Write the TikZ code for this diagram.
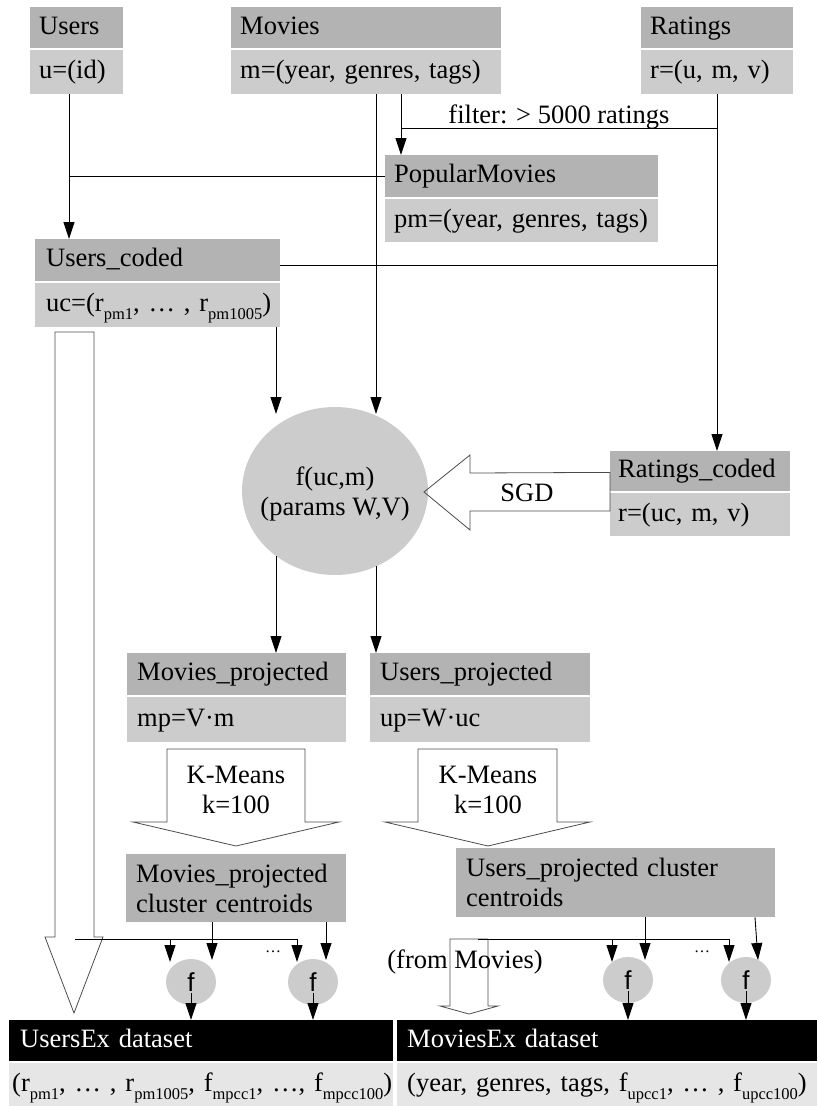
\documentclass[tikz,border=0pt]{standalone}
\usepackage{fontspec}
\setmainfont{Liberation Serif}
\newfontfamily\fsans{Liberation Sans}
\usetikzlibrary{arrows.meta,shapes.geometric}
\definecolor{hdrc}{HTML}{B3B3B3}
\definecolor{bodc}{HTML}{CCCCCC}
\definecolor{exc}{HTML}{E6E6E6}
\newcommand\sbx[1]{\raisebox{-8pt}{\fontsize{16.5}{16.5}\selectfont #1}}
\begin{document}
\begin{tikzpicture}[x=1pt,y=-1pt,
  font=\fontsize{26.5}{30}\selectfont,
  hd/.style={fill=hdrc, anchor=north west, inner xsep=9pt, inner ysep=0pt, minimum height=41pt, text height=18pt, text depth=5pt, align=left},
  bd/.style={hd, fill=bodc, minimum height=44pt},
  cc/.style={fill=hdrc, anchor=north west, inner xsep=10pt, inner ysep=0pt, align=left},
  dk/.style={anchor=north west, fill=black, text=white, inner xsep=11pt, inner ysep=0pt, minimum height=41pt, text height=18pt, text depth=5pt, align=left},
  ex/.style={anchor=north west, fill=exc, inner xsep=3pt, inner ysep=0pt, minimum height=43pt, text height=18pt, text depth=5pt, align=left},
  ln/.style={line width=0.9pt, black},
  arr/.style={ln, -{Triangle[length=17pt,width=11pt]}},
  hol/.style={draw=black!70, line width=0.8pt},
  fc/.style={ellipse, fill=bodc, minimum width=50pt, minimum height=46pt, inner sep=0pt, font=\fsans\fontsize{26}{30}\selectfont},
  lbl/.style={inner sep=0pt}
]
\useasboundingbox (0,0) rectangle (817,1106);

% boxes
\node[hd, text width=75pt] (uh) at (30,7) {Users};
\node[bd, text width=75pt] (ub) at (30,50) {u=(id)};
\node[hd, text width=252pt] (mh) at (231,7) {Movies};
\node[bd, text width=252pt] (mb) at (231,50) {m=(year, genres, tags)};
\node[hd, text width=134pt] (rh) at (641,7) {Ratings};
\node[bd, text width=134pt] (rb) at (641,50) {r=(u, m, v)};
\node[hd, text width=255pt, minimum height=42pt] (ph) at (385,155) {PopularMovies};
\node[bd, text width=255pt, minimum height=43pt] (pb) at (385,199) {pm=(year, genres, tags)};
\node[hd, inner xsep=11pt, text width=223pt, minimum height=42pt] (uch) at (35,239) {Users\_coded};
\node[bd, inner xsep=11pt, text width=223pt] (ucb) at (35,283) {\mbox{uc=(r\sbx{pm1}, … , r\sbx{pm1005})}};
\node[hd, inner xsep=8pt, text width=164pt, minimum height=40pt] (rch) at (610,451) {Ratings\_coded};
\node[bd, inner xsep=8pt, text width=164pt, minimum height=43pt] (rcb) at (610,493) {r=(uc, m, v)};
\node[ellipse, fill=bodc, minimum width=186pt, minimum height=168pt, inner sep=0pt] (fn) at (335,491) {};
\node[align=center] (fnt) at (335,494) {f(uc,m)\\(params W,V)};
\node[hd, inner xsep=10pt, text width=199pt, minimum height=42pt] (mph) at (127,653) {Movies\_projected};
\node[bd, inner xsep=10pt, text width=199pt, minimum height=45pt] (mpb) at (127,697) {mp=V·m};
\node[hd, inner xsep=10pt, text width=200pt, minimum height=42pt] (uph) at (370,653) {Users\_projected};
\node[bd, inner xsep=10pt, text width=200pt, minimum height=45pt] (upb) at (370,697) {up=W·uc};
\node[cc, text width=200pt, minimum height=68pt] (mcc) at (126,854) {Movies\_projected\\cluster centroids};
\node[cc, text width=299pt, minimum height=69pt] (ucc) at (456,848) {Users\_projected cluster\\centroids};
\node[dk, text width=362pt] (ueh) at (9,1020) {UsersEx dataset};
\node[ex, text width=378pt] (ueb) at (9,1063) {\mbox{(r\sbx{pm1}, … , r\sbx{pm1005}, f\sbx{mpcc1}, …, f\sbx{mpcc100})}};
\node[dk, inner xsep=10pt, text width=400pt] (meh) at (397,1020) {MoviesEx dataset};
\node[ex, inner xsep=10pt, text width=400pt] (meb) at (397,1063) {\mbox{(year, genres, tags, f\sbx{upcc1}, … , f\sbx{upcc100})}};

% column coordinates
\coordinate (xu) at (69,0);
\coordinate (xf) at (401,0);
\coordinate (xm) at (376,0);
\coordinate (xa) at (276,0);
\coordinate (xr) at (717,0);
\coordinate (ftop) at (0,414);

% top connectors
\draw[arr] (ub.south -| xu) -- (uch.north -| xu);
\draw[ln] (xu |- ph.west) -- (ph.west);
\draw[arr] (mb.south -| xf) -- (ph.north -| xf);
\coordinate (fj) at (401,128);
\coordinate (rj) at (717,128);
\draw[ln] (fj) -- (rj);
\node[anchor=base] (flt) at (559,123) {filter: > 5000 ratings};
\draw[arr] (rb.south -| xr) -- (rch.north -| xr);
\coordinate (ucj) at (280,265);
\draw[ln] (ucj) -- (xr |- ucj);
\draw[arr] (mb.south -| xm) -- (xm |- ftop);
\draw[arr] (ucb.south -| xa) -- (xa |- ftop);

% from f(uc,m) down
\coordinate (fa) at (276,556);
\coordinate (fm) at (376,566);
\draw[arr] (fa) -- (mph.north -| fa);
\draw[arr] (fm) -- (uph.north -| fm);

% SGD hollow arrow
\draw[hol] (rch.south west) ++(0,-19) coordinate (s1) -- (470,473) -- (470,455) -- (424,492) -- (470,530) -- (470,511) -- (rch.south west |- 0,511) -- cycle;
\node (sgd) at (527,493) {SGD};

% K-Means hollow arrows
\draw[hol] (167,749) -- (305,749) -- (305,822) -- (339,822) -- (236,846) -- (133,822) -- (167,822) -- cycle;
\node[align=center] (km1) at (236,790) {K-Means\\k=100};
\draw[hol] (418,749) -- (557,749) -- (557,822) -- (590,822) -- (488,846) -- (385,822) -- (418,822) -- cycle;
\node[align=center] (km2) at (488,790) {K-Means\\k=100};

% big arrow Users_coded -> UsersEx
\draw[hol] (55,332) -- (94,332) -- (94,937) -- (103,937) -- (74,1013) -- (45,937) -- (55,937) -- cycle;
% (from Movies) arrow
\draw[hol] (450,939) -- (488,939) -- (488,1006) -- (498,1006) -- (469,1014) -- (440,1006) -- (450,1006) -- cycle;
\node (fmv) at (465,962) {(from Movies)};

% small f circles
\node[fc] (f1) at (191,982) {f};
\node[fc] (f2) at (313,982) {f};
\node[fc] (f3) at (628,980) {f};
\node[fc] (f4) at (746,980) {f};
\node[font=\fontsize{16}{16}\selectfont] (d1) at (273,952) {…};
\node[font=\fontsize{16}{16}\selectfont] (d2) at (702,952) {…};

% left bottom connectors
\coordinate (hl1) at (75,939);
\coordinate (hl2) at (298,939);
\draw[ln] (hl1) -- (hl2);
\draw[arr] (170,939) -- (170,962);
\draw[arr] (297,939) -- (297,962);
\draw[arr] (mcc.south -| 212,0) -- (212,960);
\draw[arr] (mcc.south -| 326,0) -- (326,960);
\draw[arr] ([yshift=-11pt]f1.center) -- (ueh.north -| f1);
\draw[arr] ([yshift=-11pt]f2.center) -- (ueh.north -| f2);

% right bottom connectors
\coordinate (hr1) at (478,939);
\coordinate (hr2) at (730,939);
\draw[ln] (hr1) -- (hr2);
\draw[arr] (612,939) -- (612,962);
\draw[arr] (729,939) -- (729,962);
\draw[arr] (ucc.south -| 645,0) -- (645,960);
\draw[arr] (ucc.south -| 755,0) -- (758,960);
\draw[arr] ([yshift=-11pt]f3.center) -- (meh.north -| f3);
\draw[arr] ([yshift=-11pt]f4.center) -- (meh.north -| f4);
\end{tikzpicture}
\end{document}
